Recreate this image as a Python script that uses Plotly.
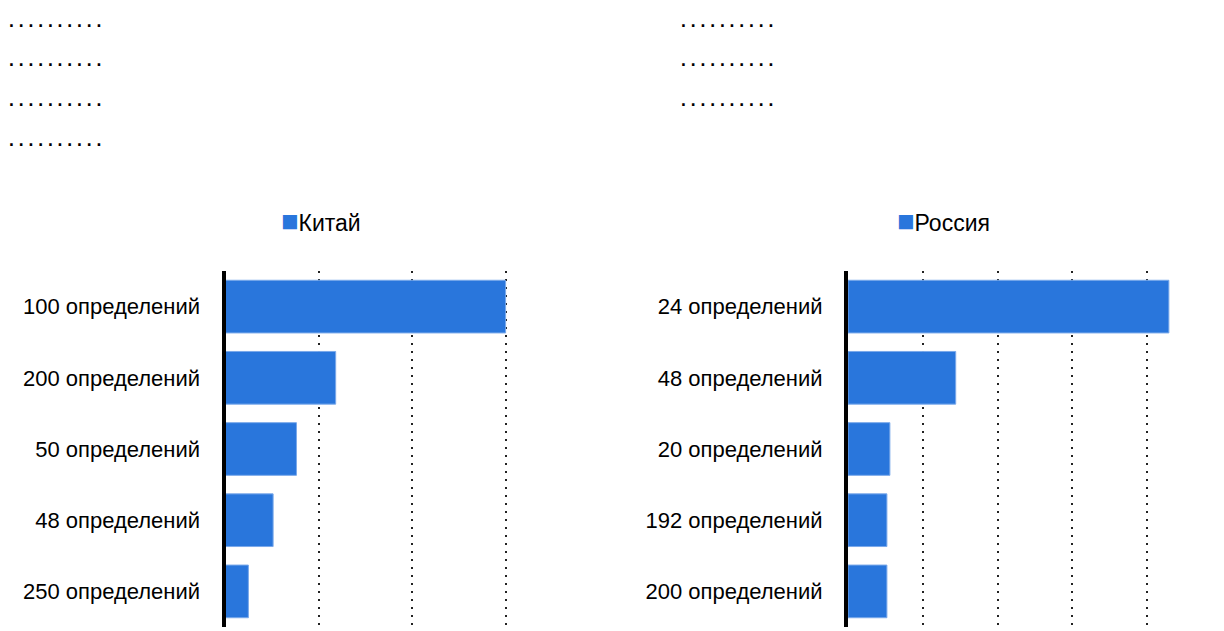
import plotly.graph_objects as go

# ---- data ----
china_labels = ["100 определений", "200 определений", "50 определений", "48 определений", "250 определений"]
china_values = [3.0, 1.18, 0.76, 0.51, 0.245]
russia_labels = ["24 определений", "48 определений", "20 определений", "192 определений", "200 определений"]
russia_values = [4.29, 1.44, 0.56, 0.52, 0.52]
china_name = "Китай"
russia_name = "Россия"
dots_left = [". . . . . . . . . ."] * 4
dots_right = [". . . . . . . . . ."] * 3

OFF = 8  # page body margin
W, H = 1224 - OFF, 631 - OFF
BLUE = "#2976DC"
FONT = "Liberation Sans, Arial, sans-serif"

fig = go.Figure()
fig.add_trace(go.Bar(x=china_values, y=china_labels, orientation="h", name=china_name,
                     marker=dict(color=BLUE, line=dict(color="#7aa9ea", width=1)),
                     width=0.74, xaxis="x", yaxis="y", showlegend=False))
fig.add_trace(go.Bar(x=russia_values, y=russia_labels, orientation="h", name=russia_name,
                     marker=dict(color=BLUE, line=dict(color="#7aa9ea", width=1)),
                     width=0.74, xaxis="x2", yaxis="y2", showlegend=False))

# page-pixel geometry
top, bottom = 271 - OFF, 627 - OFF
ph = bottom - top

def py(page_y):
    return (bottom - (page_y - OFF)) / ph

def px(page_x):
    return (page_x - OFF) / W

grid = dict(showgrid=True, gridcolor="#222222", griddash="2px,6px", gridwidth=2,
            zeroline=False, showticklabels=False, ticks="", showline=False, dtick=1)
yax = dict(autorange="reversed", showline=True, linecolor="black", linewidth=4,
           ticks="", showgrid=False, ticklabelstandoff=17,
           tickfont=dict(family=FONT, size=22, color="black"))

fig.update_layout(
    width=W, height=H,
    margin=dict(l=0, r=0, t=top, b=H - bottom, autoexpand=False),
    paper_bgcolor="white", plot_bgcolor="white",
    font=dict(family=FONT, color="black"),
    xaxis=dict(domain=[px(225.5), px(599)], range=[0, 4], **grid),
    xaxis2=dict(domain=[px(848), px(1222)], range=[0, 5], **grid),
    yaxis=dict(anchor="x", **yax),
    yaxis2=dict(anchor="x2", **yax),
    showlegend=False,
)

annos = []
for i, t in enumerate(dots_left):
    annos.append(dict(text=t, xref="paper", yref="paper", x=px(7), y=py([21.5, 61, 100.5, 140][i] + 11.5),
                      xanchor="left", yanchor="bottom", showarrow=False,
                      font=dict(family=FONT, size=17.5, color="black", weight="bold")))
for i, t in enumerate(dots_right):
    annos.append(dict(text=t, xref="paper", yref="paper", x=px(679), y=py([21.5, 61, 100.5][i] + 11.5),
                      xanchor="left", yanchor="bottom", showarrow=False,
                      font=dict(family=FONT, size=17.5, color="black", weight="bold")))
# legend-like keys
for name, xl in [(china_name, 279), (russia_name, 895)]:
    annos.append(dict(text=f"<span style='color:{BLUE};font-size:29px'>■</span>{name}",
                      xref="paper", yref="paper",
                      x=px(xl), y=py(220.5), xanchor="left", yanchor="middle", showarrow=False,
                      font=dict(family=FONT, size=23, color="black")))
fig.update_layout(annotations=annos)

fig.write_html("out.html")
